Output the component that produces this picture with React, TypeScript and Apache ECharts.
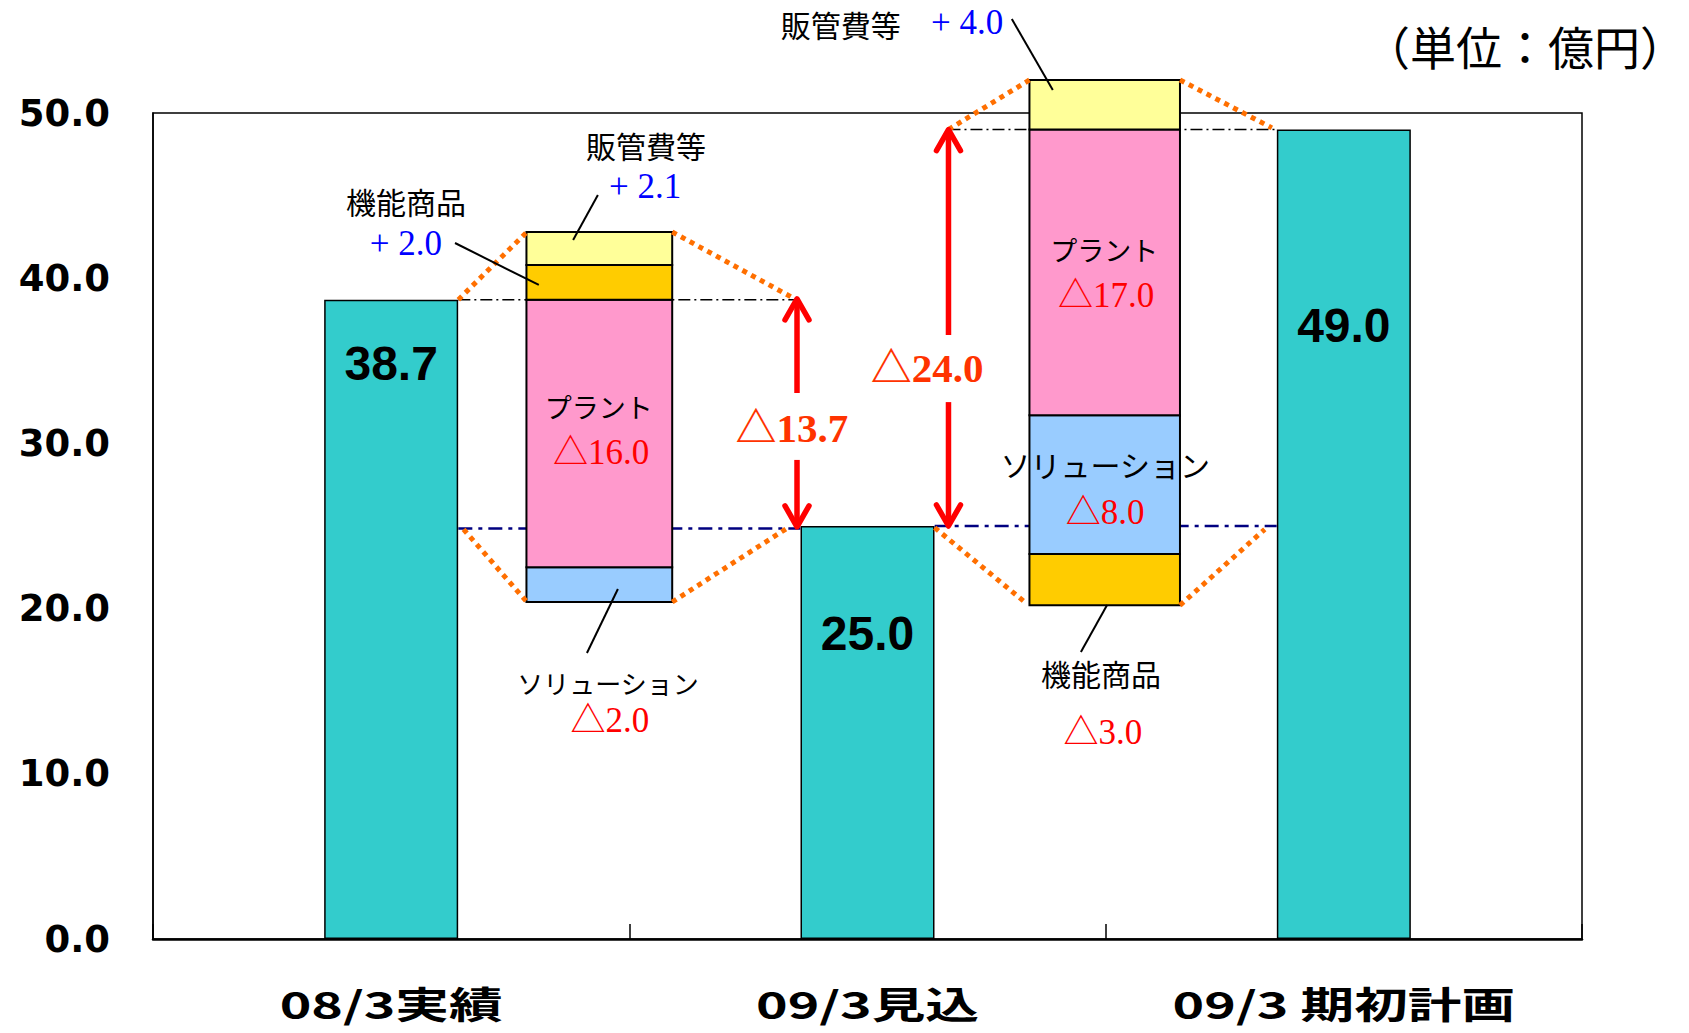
import React, { useEffect, useRef } from "react";
import * as echarts from "echarts";

// ---------------- data ----------------
const categories = ["08/3実績", "09/3見込", "09/3 期初計画"];
const totals = [38.7, 25.0, 49.0];

// bridge 1 : 08/3実績 -> 09/3見込 (segment bottoms / tops, 億円)
const bridge1Segments = ["ソリューション", "プラント", "機能商品", "販管費等"];
const bridge1Low = [20.4, 22.5, 38.7, 40.8];
const bridge1High = [22.5, 38.7, 40.8, 42.8];

// bridge 2 : 09/3見込 <- 09/3 期初計画
const bridge2Segments = ["機能商品", "ソリューション", "プラント", "販管費等"];
const bridge2Low = [20.2, 23.3, 31.7, 49.0];
const bridge2High = [23.3, 31.7, 49.0, 52.0];

// annotation texts
const annoTexts = [
  "販管費等", "+ 2.1", "機能商品", "+ 2.0", "プラント", "△16.0", "ソリューション", "△2.0",
  "△13.7", "△24.0",
  "販管費等", "+ 4.0", "プラント", "△17.0", "ソリューション", "△8.0", "機能商品", "△3.0",
];
const annoKind = [
  "name", "plus", "name", "plus", "kata", "minus", "kataS", "minus",
  "delta", "delta",
  "name", "plus", "kata", "minus", "name", "minus", "name", "minus",
];
const unitText = "（単位：億円）";

// ---------------- layout (data-space positions on a hidden 0..3 axis) ----------------
const bridgeCenter = [0.937, 1.998];
const bridgeHalf = [0.153, 0.158];
const annoX = [1.035, 1.033, 0.531, 0.531, 0.936, 0.941, 0.955, 0.959, 1.341, 1.625, 1.444, 1.709, 1.997, 2.001, 1.999, 1.999, 1.99, 1.994];
const annoY = [48.05, 45.55, 44.7, 42.1, 32.26, 29.42, 15.55, 13.25, 30.93, 34.56, 55.39, 55.45, 41.71, 38.98, 28.75, 25.79, 16.1, 12.53];
const dottedLinks = [
  [0.641, 38.7, 0.785, 42.8],
  [1.09, 42.8, 1.344, 38.8],
  [0.652, 24.8, 0.785, 20.4],
  [1.09, 20.4, 1.333, 24.9],
  [1.67, 49.0, 1.84, 52.0],
  [2.156, 52.0, 2.349, 49.1],
  [1.641, 24.9, 1.83, 20.4],
  [2.156, 20.2, 2.334, 24.8],
];
const blackRefLines = [
  [0.641, 38.7, 1.352, 38.7],
  [1.67, 49.0, 2.359, 49.0],
];
const navyRefLines = [
  [0.641, 24.85, 1.359, 24.85],
  [1.641, 25.0, 2.359, 25.0],
];
const leaderLines = [
  [0.934, 45.04, 0.882, 42.31],
  [0.634, 42.13, 0.81, 39.59],
  [0.976, 21.19, 0.911, 17.31],
  [1.803, 55.69, 1.889, 51.39],
  [2.003, 20.22, 1.948, 17.37],
];
const arrowX = [1.352, 1.352, 1.67, 1.67];
const arrowTip = [38.75, 24.95, 49.0, 25.0];
const arrowTail = [33.05, 29.0, 36.56, 32.5];
const barLabelDrop = [64, 107, 196];

const segColor: Record<string, string> = {
  "ソリューション": "#99CCFF",
  "プラント": "#FF99CC",
  "機能商品": "#FFCC00",
  "販管費等": "#FFFF99",
};

const CJK = '"Noto Sans CJK JP", sans-serif';
const SERIF = '"Liberation Serif", "Noto Sans CJK JP", serif';
const kindStyle: Record<string, any> = {
  name: { fontSize: 30, fontFamily: CJK, fill: "#000", fontWeight: "normal" },
  kata: { fontSize: 27, fontFamily: CJK, fill: "#000", fontWeight: "normal" },
  kataS: { fontSize: 26, fontFamily: CJK, fill: "#000", fontWeight: "normal" },
  plus: { fontSize: 35, fontFamily: SERIF, fill: "#0000FF", fontWeight: "normal" },
  minus: { fontSize: 35, fontFamily: SERIF, fill: "#FF0000", fontWeight: "normal" },
  delta: { fontSize: 41, fontFamily: SERIF, fill: "#FF3300", fontWeight: "bold" },
};

function lineSeries(links: number[][], style: any, z: number) {
  return {
    type: "custom",
    xAxisIndex: 1,
    yAxisIndex: 0,
    z,
    silent: true,
    data: links,
    renderItem: (_p: any, api: any) => {
      const a = api.coord([api.value(0), api.value(1)]);
      const b = api.coord([api.value(2), api.value(3)]);
      return {
        type: "line",
        shape: { x1: a[0], y1: a[1], x2: b[0], y2: b[1] },
        style: { fill: "none", ...style },
      };
    },
  };
}

export default function App() {
  const ref = useRef<HTMLDivElement>(null);

  useEffect(() => {
    if (!ref.current) return;
    const chart = echarts.init(ref.current, null, { renderer: "svg" });

    const stackData: number[][] = [];
    const stackColors: string[] = [];
    const bridges: [string[], number[], number[]][] = [
      [bridge1Segments, bridge1Low, bridge1High],
      [bridge2Segments, bridge2Low, bridge2High],
    ];
    bridges.forEach(([segs, lo, hi], b) => {
      segs.forEach((s, i) => {
        stackData.push([bridgeCenter[b], lo[i], hi[i], bridgeHalf[b]]);
        stackColors.push(segColor[s]);
      });
    });

    const option: any = {
      animation: false,
      backgroundColor: "#fff",
      grid: {
        left: 153,
        right: 107,
        top: 113,
        bottom: 94,
        show: true,
        borderColor: "#000",
        borderWidth: 1.5,
      },
      xAxis: [
        {
          type: "category",
          data: categories,
          position: "bottom",
          axisLine: { show: true, lineStyle: { color: "#000", width: 2.5 } },
          axisTick: { show: true, inside: true, length: 15, lineStyle: { color: "#000", width: 1.5 } },
          axisLabel: { show: false },
          splitLine: { show: false },
        },
        {
          type: "value",
          min: 0,
          max: 3,
          show: false,
          position: "top",
          splitLine: { show: false },
        },
      ],
      yAxis: {
        type: "value",
        min: 0,
        max: 50,
        interval: 10,
        axisLine: { show: true, lineStyle: { color: "#000", width: 1.5 } },
        axisTick: { show: false },
        splitLine: { show: false },
        axisLabel: {
          formatter: (v: number) => v.toFixed(1),
          fontSize: 37,
          fontWeight: "bold",
          fontFamily: '"DejaVu Sans", sans-serif',
          color: "#000",
          margin: 43,
        },
      },
      graphic: [
        {
          type: "text",
          x: 1525,
          y: 45,
          style: {
            text: unitText,
            fontSize: 46,
            fontFamily: CJK,
            fill: "#000",
            align: "center",
            verticalAlign: "middle",
            textAlign: "center",
            textVerticalAlign: "middle",
          },
        },
      ],
      series: [
        {
          type: "bar",
          xAxisIndex: 0,
          yAxisIndex: 0,
          barWidth: 134,
          z: 2,
          itemStyle: { color: "#33CCCC", borderColor: "#000", borderWidth: 1.5 },
          label: {
            show: true,
            formatter: (p: any) => Number(p.value).toFixed(1),
            fontSize: 48,
            fontWeight: "bold",
            fontFamily: '"Liberation Sans", Arial, sans-serif',
            color: "#000",
            align: "center",
            verticalAlign: "middle",
          },
          data: totals.map((v, i) => ({ value: v, label: { position: ["50%", barLabelDrop[i]] } })),
        },
        lineSeries(blackRefLines, { stroke: "#000", lineWidth: 1.5, lineDash: [12, 4, 2, 4] }, 3),
        lineSeries(navyRefLines, { stroke: "#000080", lineWidth: 2.5, lineDash: [14, 6, 4, 6] }, 3),
        {
          type: "custom",
          xAxisIndex: 1,
          yAxisIndex: 0,
          z: 4,
          silent: true,
          data: stackData,
          renderItem: (params: any, api: any) => {
            const c = api.value(0);
            const lo = api.value(1);
            const hi = api.value(2);
            const hw = api.value(3);
            const tl = api.coord([c - hw, hi]);
            const br = api.coord([c + hw, lo]);
            return {
              type: "rect",
              shape: { x: tl[0], y: tl[1], width: br[0] - tl[0], height: br[1] - tl[1] },
              style: { fill: stackColors[params.dataIndex], stroke: "#000", lineWidth: 2 },
            };
          },
        },
        lineSeries(dottedLinks, { stroke: "#FF6F00", lineWidth: 5, lineDash: [5, 5] }, 5),
        lineSeries(leaderLines, { stroke: "#000", lineWidth: 2 }, 6),
        {
          type: "custom",
          xAxisIndex: 1,
          yAxisIndex: 0,
          z: 6,
          silent: true,
          data: arrowX.map((x, i) => [x, arrowTip[i], arrowTail[i]]),
          renderItem: (_p: any, api: any) => {
            const tip = api.coord([api.value(0), api.value(1)]);
            const tail = api.coord([api.value(0), api.value(2)]);
            const dir = tail[1] > tip[1] ? 1 : -1;
            const st = { stroke: "#FF0000", lineWidth: 5.5, fill: "none", lineJoin: "round", lineCap: "round" };
            return {
              type: "group",
              children: [
                { type: "line", shape: { x1: tip[0], y1: tip[1] + dir * 3, x2: tail[0], y2: tail[1] }, style: { ...st, lineCap: "butt" } },
                {
                  type: "polyline",
                  shape: { points: [[tip[0] - 12, tip[1] + dir * 21], [tip[0], tip[1]], [tip[0] + 12, tip[1] + dir * 21]] },
                  style: st,
                },
              ],
            };
          },
        },
        {
          type: "custom",
          xAxisIndex: 1,
          yAxisIndex: 0,
          z: 7,
          silent: true,
          data: annoX.map((x, i) => [x, annoY[i]]),
          renderItem: (params: any, api: any) => {
            const p = api.coord([api.value(0), api.value(1)]);
            const k = kindStyle[annoKind[params.dataIndex]];
            return {
              type: "text",
              x: p[0],
              y: p[1],
              style: {
                text: annoTexts[params.dataIndex],
                ...k,
                align: "center",
                verticalAlign: "middle",
                textAlign: "center",
                textVerticalAlign: "middle",
              },
            };
          },
        },
        {
          type: "custom",
          xAxisIndex: 1,
          yAxisIndex: 0,
          z: 7,
          silent: true,
          data: categories.map((_c, i) => [i + 0.5, 0]),
          renderItem: (params: any, api: any) => {
            const p = api.coord([api.value(0), api.value(1)]);
            return {
              type: "text",
              x: p[0],
              y: p[1] + 64,
              scaleX: 1.45,
              style: {
                text: categories[params.dataIndex],
                fontSize: 37,
                fontWeight: "bold",
                fontFamily: CJK,
                fill: "#000",
                align: "center",
                verticalAlign: "middle",
                textAlign: "center",
                textVerticalAlign: "middle",
              },
            };
          },
        },
      ],
    };

    chart.setOption(option);
    return () => chart.dispose();
  }, []);

  return (
    <div
      ref={ref}
      style={{ position: "fixed", left: 0, top: 0, width: 1689, height: 1033, background: "#fff" }}
    />
  );
}
